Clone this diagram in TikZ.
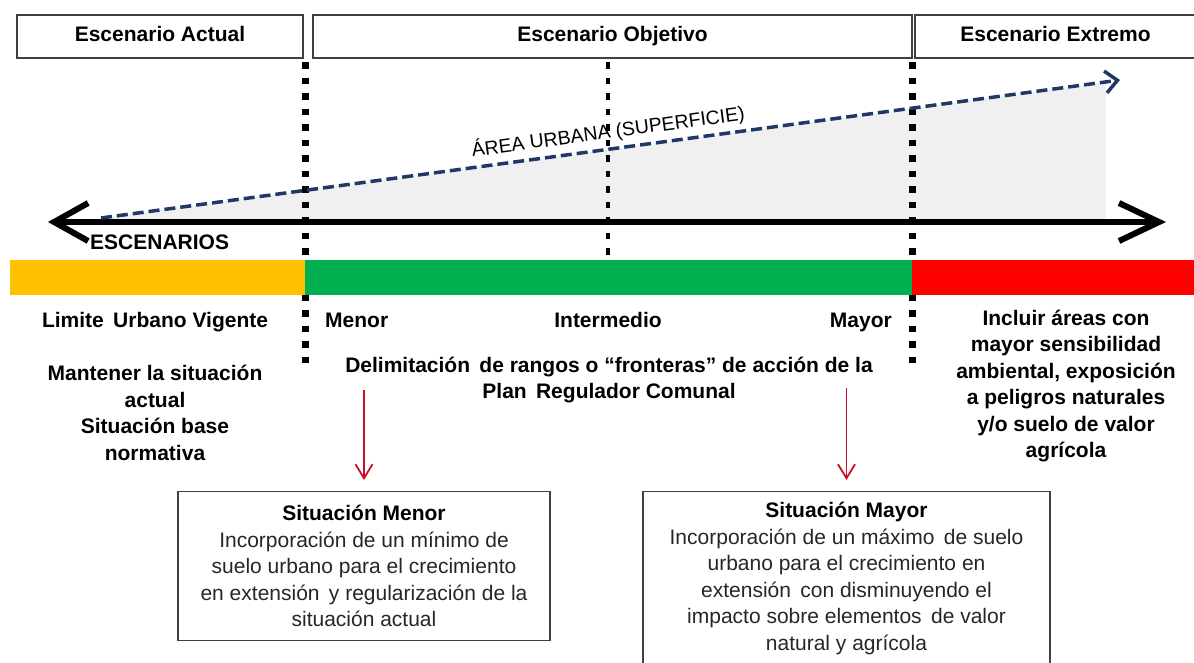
\documentclass[tikz,border=0pt]{standalone}
\usepackage{fontspec}
\setmainfont{Liberation Sans}
\usepackage{tikz}
\usepackage{xcolor}
\usetikzlibrary{arrows.meta}
\definecolor{navyline}{RGB}{31,56,100}
\definecolor{darkred}{RGB}{200,16,40}
\definecolor{barorange}{RGB}{255,192,0}
\definecolor{bargreen}{RGB}{0,176,80}
\definecolor{barred}{RGB}{255,0,0}
\definecolor{boxgray}{RGB}{64,64,64}
\definecolor{areagray}{RGB}{240,240,240}
\definecolor{bodytext}{RGB}{38,38,38}

\begin{document}
\begin{tikzpicture}[x=1pt,y=-1pt,
  lbl/.style={font=\fontsize{21}{26.5}\selectfont\bfseries,align=center,inner sep=0pt},
  headbox/.style={draw=boxgray,line width=1.2pt,minimum height=43pt,inner sep=0pt,
    text height=15pt,text depth=4.5pt,font=\fontsize{21}{26.5}\selectfont\bfseries},
  sitbox/.style={draw=boxgray,line width=1.2pt,align=center,inner sep=0pt,text=bodytext,
    font=\fontsize{21}{26.5}\selectfont},
  redarrow/.style={draw=darkred,line width=1.8pt,-{Straight Barb[length=14pt,width=17pt]},shorten >=11pt}]
  \useasboundingbox (0,0) rectangle (1194,662);
  % scenario headers, growth of the urban area along the axis, colour bands and the two situations
  \foreach \nm/\xa/\xb/\txt in {hdActual/17/303/Escenario Actual,
      hdObjetivo/313/912/Escenario Objetivo, hdExtremo/915/1196/Escenario Extremo}
    \node[headbox,minimum width={(\xb-\xa)*1pt}] (\nm) at ({(\xa+\xb)/2},36.5) {\txt};

  \coordinate (areaL) at (101,218);
  \coordinate (areaR) at (1120,80);
  \fill[areagray] (areaL) -- (1106,82) -- (1106,222) -- (101,222) -- cycle;

  \coordinate (axL) at (48,222);
  \coordinate (axR) at (1166,222);
  \draw[line width=6pt,{Straight Barb[length=34pt,width=38pt]}-{Straight Barb[length=40pt,width=38pt]}]
    (axL) -- (axR);

  \foreach \x/\yb/\w in {305/370/7, 608/288/4.5, 912/370/7}
    \draw[line width=\w pt,dash pattern=on 6.5pt off 9pt] (\x,62) -- (\x,\yb);

  \draw[navyline,line width=3.5pt,dash pattern=on 11pt off 5pt,
    -{Straight Barb[length=12pt,width=22pt]}] (areaL) -- (areaR)
    node[pos=0.5,sloped,above=5pt,inner sep=0pt,text=black,font=\fontsize{19.5}{22}\selectfont]
    (areaLbl) {ÁREA URBANA (SUPERFICIE)};

  \node[lbl,anchor=west] (escLbl) at (90,242) {ESCENARIOS};

  \foreach \xa/\xb/\col in {10/305/barorange, 305/912/bargreen, 912/1194/barred}
    \fill[\col] (\xa,260) rectangle (\xb,295);

  \node[lbl,anchor=base] (limite) at (155,327) {Limite\, Urbano Vigente};
  \node[lbl,anchor=base west] (menor) at (325,327) {Menor};
  \node[lbl,anchor=base] (intermedio) at (608,327) {Intermedio};
  \node[lbl,anchor=base east] (mayor) at (892,327) {Mayor};

  \node[lbl] (mantener) at (155,413) {Mantener la situación\\actual\\Situación base\\normativa};
  \node[lbl] (delim) at (609,380) {Delimitación\, de rangos o “fronteras” de acción de la\\Plan\, Regulador Comunal};
  \node[lbl] (incluir) at (1066,386) {Incluir áreas con\\mayor sensibilidad\\ambiental, exposición\\a peligros naturales\\y/o suelo de valor\\agrícola};

  \node[sitbox,anchor=north,minimum width=372pt,minimum height=149pt] (sitMenor) at (364,491)
    {\textbf{\color{black}Situación Menor}\\Incorporación de un mínimo de\\suelo urbano para el crecimiento\\en extensión\, y regularización de la\\situación actual};
  \node[sitbox,anchor=north,minimum width=407pt,minimum height=174pt] (sitMayor) at (846.5,491)
    {\textbf{\color{black}Situación Mayor}\\Incorporación de un máximo\, de suelo\\urbano para el crecimiento en\\extensión\, con disminuyendo el\\impacto sobre elementos\, de valor\\natural y agrícola};

  \coordinate (menorTop) at (364,390);
  \coordinate (mayorTop) at (846.5,388);
  \draw[redarrow] (menorTop) -- (sitMenor.north);
  \draw[redarrow] (mayorTop) -- (sitMayor.north);
\end{tikzpicture}
\end{document}
